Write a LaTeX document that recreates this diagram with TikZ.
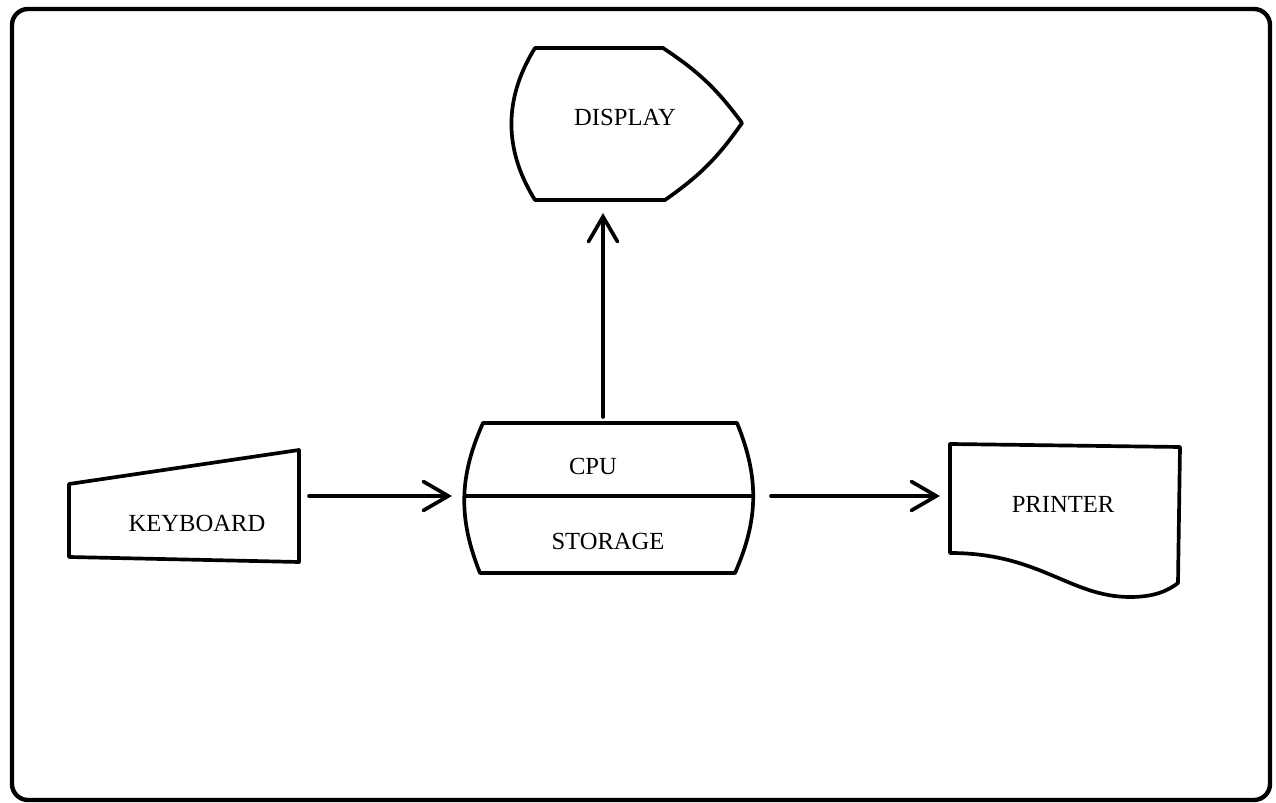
\documentclass[tikz,border=0pt]{standalone}
\usepackage{fontspec}
\setmainfont{Liberation Serif}
\usetikzlibrary{arrows.meta}
\tikzset{
    outline/.style={line width=2.1pt, line join=round},
    frame/.style={line width=2.5pt, rounded corners=0.32cm},
    flow/.style={line width=2.1pt, line cap=round, -{Straight Barb[length=0.5cm, width=0.58cm, line cap=round]}},
    label text/.style={font=\fontsize{14}{17}\selectfont, inner sep=0pt},
}

\begin{document}
\begin{tikzpicture}[x=0.02cm, y=-0.02cm]
\useasboundingbox (0,0) rectangle (1276,803);
\draw[frame] (12,9) rectangle (1270,800);
\draw[outline] (535,48) -- (663,48) to[bend left=10] (742,123) to[bend left=10] (665,200) -- (535,200) to[bend left=32] cycle;
\draw[outline] (69,484) -- (299,450) -- (299,562) -- (69,557) -- cycle;
\draw[outline] (483,423) -- (737,423) to[bend left=23] (735,573) -- (480,573) to[bend left=23] cycle;
\draw[outline] (464,496) -- (753,496);
\draw[outline] (950,444) -- (1180,447) -- (1178,583) .. controls (1165,593) and (1150,597) .. (1130,597) .. controls (1070,597) and (1040,553) .. (950,553) -- cycle;
\node[label text] (disp) at (625,117) {DISPLAY};
\node[label text] (kbd) at (197,523) {KEYBOARD};
\node[label text] (cpu) at (593,466) {CPU};
\node[label text] (store) at (608,541) {STORAGE};
\node[label text] (prn) at (1063,504) {PRINTER};
\coordinate (kbd-e) at (299,496);
\coordinate (cpu-w) at (464,496);
\coordinate (cpu-e) at (753,496);
\coordinate (cpu-n) at (603,423);
\coordinate (disp-s) at (603,200);
\coordinate (prn-w) at (950,496);
\draw[flow, shorten <=0.2cm, shorten >=0.24cm] (kbd-e) -- (cpu-w);
\draw[flow, shorten <=0.36cm, shorten >=0.2cm] (cpu-e) -- (prn-w);
\draw[flow, shorten <=0.12cm, shorten >=0.26cm] (cpu-n) -- (disp-s);
\end{tikzpicture}
\end{document}
